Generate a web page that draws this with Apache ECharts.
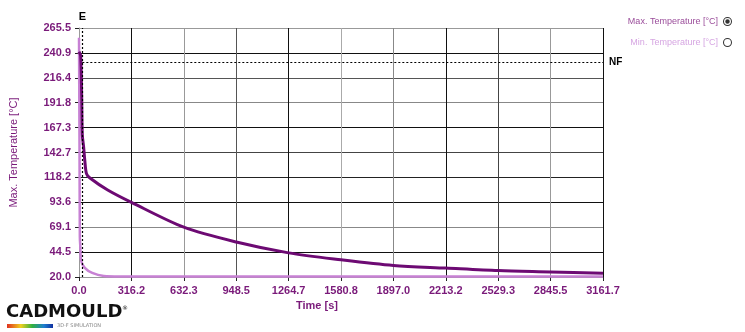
<!DOCTYPE html>
<html>
<head>
<meta charset="utf-8">
<script src="https://cdn.jsdelivr.net/npm/echarts@6/dist/echarts.min.js"></script>
</head>
<body style="margin:0">
<div id="main" style="width:745px;height:332px;"></div>
<script type="text/javascript">
// time [s] and temperatures
var maxTime = [0, 10, 16, 20, 28, 35, 45, 66, 173, 316.2, 632.3, 948.5, 1264.7, 1580.8, 1897.0, 2213.2, 2529.3, 2845.5, 3161.7];
var maxTemp = [242, 238, 200, 160, 148, 135, 122, 117.6, 105.8, 93.6, 69.1, 54.5, 43.8, 37, 31.4, 28.8, 26.3, 25.0, 23.6];

var minTime = [0, 3, 5, 8, 12, 35, 80, 150, 250, 1000, 2000, 3161.7];
var minTemp = [256, 150, 60, 49.6, 36.8, 29, 24, 21, 20.5, 20.4, 20.4, 20.4];

var xTicks = ['0.0', '316.2', '632.3', '948.5', '1264.7', '1580.8', '1897.0', '2213.2', '2529.3', '2845.5', '3161.7'];
var yTicks = ['20.0', '44.5', '69.1', '93.6', '118.2', '142.7', '167.3', '191.8', '216.4', '240.9', '265.5'];

var eTime = 20;   // "E" marker
var nfTemp = 232; // "NF" level

function pairs(xs, ys) {
    var res = [];
    for (var i = 0; i < xs.length; i++) res.push([xs[i], ys[i]]);
    return res;
}

var purple = '#6d0a73';
var lilac = '#c781d4';
var labelCol = '#7a1a7a';

var radioOn = 'path://M12 1A11 11 0 1 1 11.99 1ZM12 3.5A8.5 8.5 0 1 0 12.01 3.5ZM12 6.5A5.5 5.5 0 1 1 11.99 6.5Z';
var radioOff = 'path://M12 1A11 11 0 1 1 11.99 1ZM12 3.5A8.5 8.5 0 1 0 12.01 3.5Z';

var myChart = echarts.init(document.getElementById('main'));

var option = {
    animation: false,
    backgroundColor: '#fff',
    grid: { left: 74, right: 142, top: 28, bottom: 55 },
    legend: {
        orient: 'vertical',
        right: 8,
        top: 12,
        align: 'right',
        itemGap: 12,
        itemWidth: 9,
        itemHeight: 9,
        textStyle: { fontSize: 9, fontFamily: 'Liberation Sans' },
        data: [
            { name: 'Max. Temperature [°C]', icon: radioOn, itemStyle: { color: '#333' }, textStyle: { color: '#9a4c9a' } },
            { name: 'Min. Temperature [°C]', icon: radioOff, itemStyle: { color: '#333' }, textStyle: { color: '#d6a6e2' } }
        ]
    },
    xAxis: {
        type: 'value',
        min: 0,
        max: 3161.7,
        interval: 316.17,
        name: 'Time [s]',
        nameLocation: 'middle',
        nameGap: 22,
        nameTextStyle: { color: labelCol, fontSize: 11, fontWeight: 'bold', fontFamily: 'Liberation Sans', padding: [0, 48, 0, 0] },
        axisLine: { show: true, lineStyle: { color: '#999' } },
        axisTick: { show: true, length: 4, lineStyle: { color: '#222' } },
        axisLabel: {
            color: labelCol, fontSize: 11, fontWeight: 'bold', fontFamily: 'Liberation Sans', margin: 8,
            formatter: function (v, i) { return xTicks[i]; }
        },
        splitLine: { show: true, lineStyle: { color: ['#999', '#111', '#999', '#555', '#111', '#aaa', '#888', '#111', '#444', '#999', '#111'] } }
    },
    yAxis: {
        type: 'value',
        min: 20,
        max: 265.5,
        interval: 24.55,
        name: 'Max. Temperature [°C]',
        nameLocation: 'middle',
        nameGap: 60,
        nameTextStyle: { color: labelCol, fontSize: 11, fontFamily: 'Liberation Sans' },
        axisLine: { show: true, lineStyle: { color: '#999' } },
        axisTick: { show: true, length: 4, lineStyle: { color: '#222' } },
        axisLabel: {
            color: labelCol, fontSize: 11, fontWeight: 'bold', fontFamily: 'Liberation Sans', margin: 8,
            formatter: function (v, i) { return yTicks[i]; }
        },
        splitLine: { show: true, lineStyle: { color: ['#999', '#111', '#888', '#111', '#222', '#444', '#111', '#888', '#555', '#111', '#999'] } }
    },
    series: [
        {
            name: 'Min. Temperature [°C]',
            type: 'line',
            data: pairs(minTime, minTemp),
            showSymbol: false,
            smooth: 0.3,
            lineStyle: { color: lilac, width: 2.5 },
            itemStyle: { color: lilac }
        },
        {
            name: 'Max. Temperature [°C]',
            type: 'line',
            data: pairs(maxTime, maxTemp),
            showSymbol: false,
            smooth: 0.3,
            lineStyle: { color: purple, width: 3 },
            itemStyle: { color: purple },
            markLine: {
                silent: true,
                symbol: 'none',
                lineStyle: { color: '#000', type: [2, 2], width: 1.2 },
                data: [
                    [
                        { coord: [eTime, 20] },
                        { coord: [eTime, 265.5], label: { show: true, position: 'end', formatter: 'E', color: '#000', fontWeight: 'bold', fontSize: 11, distance: 6 } }
                    ],
                    [
                        { coord: [eTime, nfTemp] },
                        { coord: [3161.7, nfTemp], label: { show: true, position: 'end', formatter: 'NF', color: '#000', fontWeight: 'bold', fontSize: 10, distance: 6 } }
                    ]
                ]
            }
        }
    ],
    graphic: [
        {
            type: 'text', left: 6, top: 303,
            style: { text: 'CADMOULD', fill: '#111', font: 'bold 18px "DejaVu Sans"' }
        },
        {
            type: 'text', left: 122, top: 305,
            style: { text: '®', fill: '#111', font: '6px "DejaVu Sans"' }
        },
        {
            type: 'rect', left: 7, top: 324, shape: { width: 46, height: 4 },
            style: {
                fill: new echarts.graphic.LinearGradient(0, 0, 1, 0, [
                    { offset: 0, color: '#e03020' },
                    { offset: 0.3, color: '#f0d020' },
                    { offset: 0.55, color: '#30b040' },
                    { offset: 0.8, color: '#2080d0' },
                    { offset: 1, color: '#1030a0' }
                ])
            }
        },
        {
            type: 'text', left: 57, top: 323,
            style: { text: '3D-F SIMULATION', fill: '#888', font: '5px "DejaVu Sans"' }
        }
    ]
};

myChart.setOption(option);
</script>
</body>
</html>
